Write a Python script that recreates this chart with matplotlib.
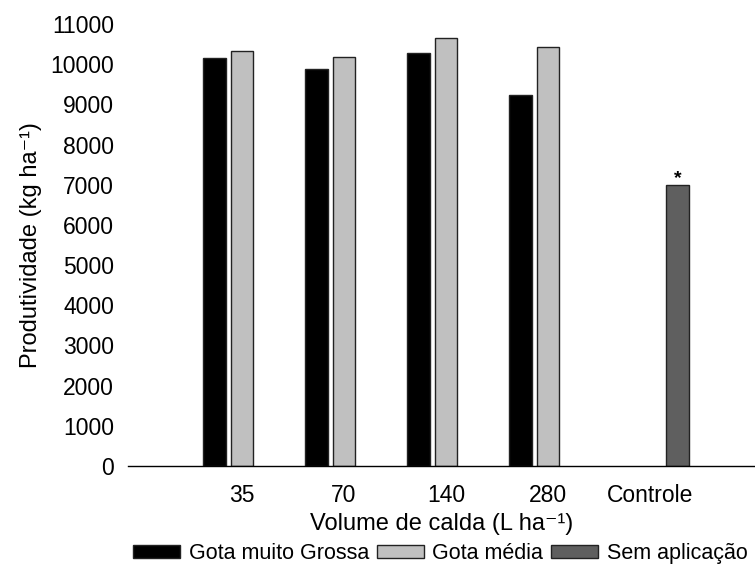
import numpy as np
import matplotlib
matplotlib.use("Agg")
from matplotlib import pyplot as plt

plt.rcParams['font.family'] = ['Liberation Sans', 'DejaVu Sans']

#data
grupos = ['35', '70', '140', '280', 'Controle']
gota_grossa = [10150, 9890, 10290, 9240, np.nan]
gota_media = [10320, 10170, 10640, 10420, np.nan]
sem_aplicacao = [np.nan, np.nan, np.nan, np.nan, 7000]
series_nomes = ['Gota muito Grossa', 'Gota média', 'Sem aplicação']
cores = ['#000000', '#c0c0c0', '#5f5f5f']

fig = plt.figure(figsize=(7.55, 5.7), dpi=100)
ax = fig.add_axes([128/755, 1-466/570, 1-128/755, (466-24)/570])

x = np.arange(len(grupos))
passo = 0.27
largura = 0.22
for k, (vals, nome, cor) in enumerate(zip([gota_grossa, gota_media, sem_aplicacao], series_nomes, cores)):
    vals = np.array(vals, dtype=float)
    ok = ~np.isnan(vals)
    ax.bar(x[ok] + (k-1)*passo, vals[ok], width=largura, color=cor,
           edgecolor='#222222', linewidth=1.0, label=nome)

#asterisk over control
ax.text(x[4] + passo, sem_aplicacao[4] - 60, '*', ha='center', va='bottom',
        fontsize=14, fontweight='bold')

ax.set_xlim(-1.118, 5.03)
ax.set_ylim(0, 11000)
ax.set_yticks(np.arange(0, 11001, 1000))
ax.set_xticks(x)
ax.set_xticklabels(grupos)
ax.tick_params(axis='both', length=0, labelsize=16.5)
ax.tick_params(axis='x', pad=13)
ax.tick_params(axis='y', pad=10)
for s in ['top', 'right', 'left']:
    ax.spines[s].set_visible(False)
ax.spines['bottom'].set_linewidth(1.0)

ax.set_ylabel('Produtividade (kg ha⁻¹)', fontsize=17, labelpad=6)
ax.set_xlabel('Volume de calda (L ha⁻¹)', fontsize=17, labelpad=4)

fig.legend(loc='lower left', bbox_to_anchor=(122/755, -0.008), ncol=3, frameon=False,
           fontsize=15.5, handlelength=2.2, handleheight=0.55, columnspacing=0.35,
           handletextpad=0.4, borderaxespad=0.1)

plt.savefig('out.png', dpi=100)
